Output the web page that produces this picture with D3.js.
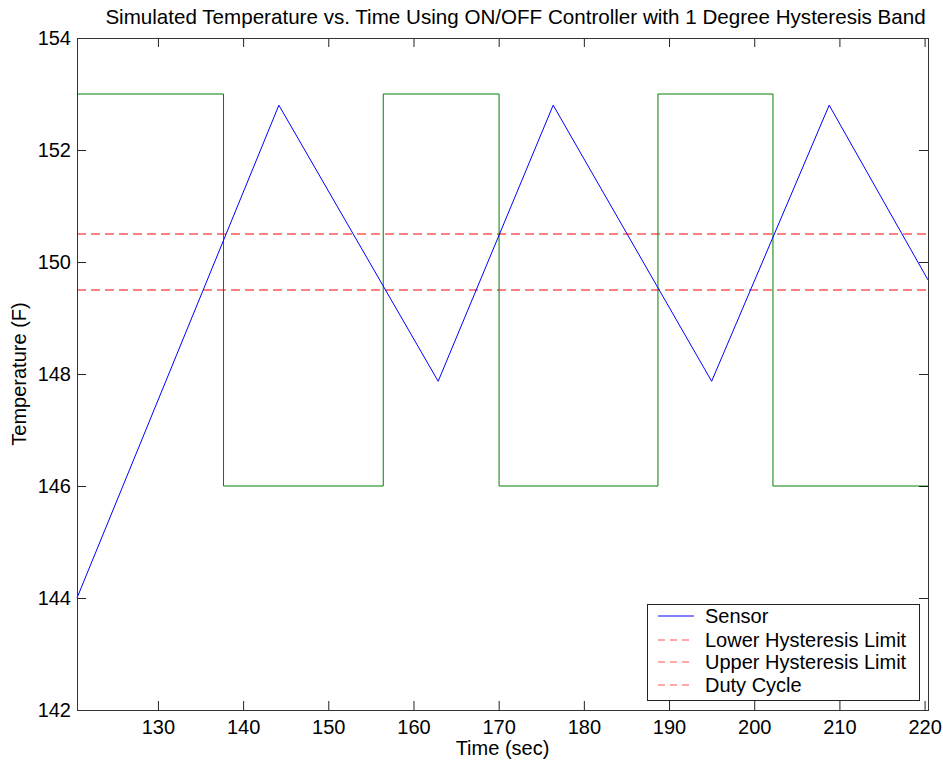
<!DOCTYPE html>
<html>
<head>
<meta charset="utf-8">
<script src="https://cdn.jsdelivr.net/npm/d3@7"></script>
<style>
  body { margin: 0; background: #fff; }
  text { font-family: "Liberation Sans", Arial, sans-serif; }
</style>
</head>
<body>
<script>
// sensor temperature (time, temp)
var sensorTime = [120.5, 144.2, 162.9, 176.4, 195.0, 208.8, 220.4];
var sensorTemp = [144.0, 152.8, 147.87, 152.8, 147.87, 152.8, 149.68];

// heater duty cycle square wave
var dutyTime = [120.5, 137.7, 137.7, 156.45, 156.45, 170.05, 170.05, 188.7, 188.7, 202.2, 202.2, 220.4];
var dutyTemp = [153, 153, 146, 146, 153, 153, 146, 146, 153, 153, 146, 146];

var lowerLimit = 149.5,
    upperLimit = 150.5;

var xTicks = [130, 140, 150, 160, 170, 180, 190, 200, 210, 220];
var yTicks = [142, 144, 146, 148, 150, 152, 154];

var legendLabels = ["Sensor", "Lower Hysteresis Limit", "Upper Hysteresis Limit", "Duty Cycle"];

(function() {
var width = 943,
    height = 765,
    mL = 77, mR = 928, mT = 38, mB = 710;

var x = d3.scaleLinear().domain([120.5, 220.4]).range([mL, mR]);
var y = d3.scaleLinear().domain([142, 154]).range([mB, mT]);

var svg = d3.select("body").append("svg")
    .attr("width", width)
    .attr("height", height);

var fs = 20;

// title
svg.append("text")
    .attr("x", (mL + mR) / 2 + 13)
    .attr("y", 24)
    .attr("text-anchor", "middle")
    .attr("font-size", 20.6)
    .text("Simulated Temperature vs. Time Using ON/OFF Controller with 1 Degree Hysteresis Band");

var line = d3.line()
    .x(function(d) { return x(d[0]); })
    .y(function(d) { return y(d[1]); });

var plot = svg.append("g");

// hysteresis limits
[upperLimit, lowerLimit].forEach(function(v) {
  plot.append("path")
      .datum([[x.domain()[0], v], [x.domain()[1], v]])
      .attr("d", line)
      .attr("fill", "none")
      .attr("stroke", "#ff0000")
      .attr("stroke-dasharray", "9,5");
});

plot.append("path")
    .datum(d3.zip(dutyTime, dutyTemp))
    .attr("d", line)
    .attr("fill", "none")
    .attr("stroke", "#008000");

plot.append("path")
    .datum(d3.zip(sensorTime, sensorTemp))
    .attr("d", line)
    .attr("fill", "none")
    .attr("stroke", "#0000ff");

// axes, ticks inside
function styleAxis(g) {
  g.select(".domain").remove();
  g.selectAll(".tick line").attr("stroke", "#222");
  g.selectAll(".tick text").attr("font-size", fs).attr("fill", "#000")
      .attr("font-family", "Liberation Sans, Arial, sans-serif");
}

svg.append("g")
    .attr("transform", "translate(0," + mB + ")")
    .call(d3.axisBottom(x).tickValues(xTicks).tickSize(-9).tickPadding(10))
    .call(styleAxis);

svg.append("g")
    .attr("transform", "translate(0," + mT + ")")
    .call(d3.axisTop(x).tickValues(xTicks).tickSize(-9).tickFormat(""))
    .call(styleAxis);

svg.append("g")
    .attr("transform", "translate(" + mL + ",0)")
    .call(d3.axisLeft(y).tickValues(yTicks).tickSize(-9).tickPadding(6))
    .call(styleAxis);

svg.append("g")
    .attr("transform", "translate(" + mR + ",0)")
    .call(d3.axisRight(y).tickValues(yTicks).tickSize(-9).tickFormat(""))
    .call(styleAxis);

svg.append("rect")
    .attr("x", mL + 0.5)
    .attr("y", mT + 0.5)
    .attr("width", mR - mL)
    .attr("height", mB - mT)
    .attr("fill", "none")
    .attr("stroke", "#333");

// axis labels
svg.append("text")
    .attr("x", (mL + mR) / 2)
    .attr("y", 755)
    .attr("text-anchor", "middle")
    .attr("font-size", fs)
    .text("Time (sec)");

svg.append("text")
    .attr("transform", "translate(26," + (mT + mB) / 2 + ") rotate(-90)")
    .attr("text-anchor", "middle")
    .attr("font-size", fs)
    .text("Temperature (F)");

// legend
var legend = svg.append("g");
legend.append("rect")
    .attr("x", 647.5)
    .attr("y", 604.5)
    .attr("width", 272)
    .attr("height", 96)
    .attr("fill", "#fff")
    .attr("stroke", "#222");

var rowY = [616, 640, 662, 685];
legendLabels.forEach(function(lab, i) {
  legend.append("line")
      .attr("x1", 658).attr("x2", 694)
      .attr("y1", rowY[i]).attr("y2", rowY[i])
      .attr("stroke", i == 0 ? "#0000ff" : "#ff5050")
      .attr("stroke-dasharray", i == 0 ? null : "7,5");
  legend.append("text")
      .attr("x", 705)
      .attr("y", rowY[i])
      .attr("dy", "0.35em")
      .attr("font-size", fs)
      .text(lab);
});
})();
</script>
</body>
</html>
